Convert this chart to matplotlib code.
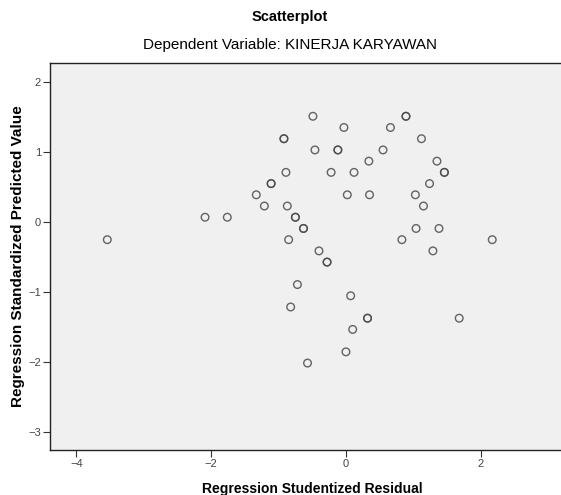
import matplotlib
matplotlib.use("Agg")
import matplotlib.pyplot as plt

plt.rcParams['font.family'] = ['Liberation Sans', 'DejaVu Sans']

# studentized residual (x) and standardized predicted value (y)
# darker rings are two cases on top of each other, so they are listed twice
resid = [-3.54, -2.09, -1.76, -1.33, -1.21, -1.11, -1.11, -0.92, -0.92, -0.89,
         -0.87, -0.85, -0.82, -0.75, -0.75, -0.72, -0.63, -0.63, -0.57, -0.49,
         -0.46, -0.40, -0.28, -0.28, -0.22, -0.12, -0.12, -0.03, 0.00, 0.02,
         0.07, 0.10, 0.12, 0.32, 0.32, 0.34, 0.35, 0.55, 0.66, 0.83,
         0.89, 0.89, 1.03, 1.04, 1.12, 1.15, 1.24, 1.29, 1.35, 1.38,
         1.46, 1.46, 1.68, 2.17]
pred = [-0.25, 0.07, 0.07, 0.39, 0.23, 0.55, 0.55, 1.19, 1.19, 0.71,
        0.23, -0.25, -1.21, 0.07, 0.07, -0.89, -0.09, -0.09, -2.01, 1.51,
        1.03, -0.41, -0.57, -0.57, 0.71, 1.03, 1.03, 1.35, -1.85, 0.39,
        -1.05, -1.53, 0.71, -1.37, -1.37, 0.87, 0.39, 1.03, 1.35, -0.25,
        1.51, 1.51, 0.39, -0.09, 1.19, 0.23, 0.55, -0.41, 0.87, -0.09,
        0.71, 0.71, -1.37, -0.25]

xticks = [-4, -2, 0, 2]
yticks = [-3, -2, -1, 0, 1, 2]

fig = plt.figure(figsize=(5.61, 4.95), dpi=100)
ax = fig.add_axes([50 / 561, 45 / 495, 511 / 561, 387 / 495])
ax.set_facecolor('#f0f0f0')

ax.scatter(resid, pred, s=30, facecolors='none', edgecolors='#4a4a4a',
           linewidths=1.0, alpha=0.85, zorder=3)

ax.set_xlim(-4.39, 3.19)
ax.set_ylim(-3.25, 2.27)
ax.set_xticks(xticks)
ax.set_yticks(yticks)
ax.tick_params(axis='both', direction='out', length=5, width=0.8,
               color='#333333', labelcolor='#444444', labelsize=8, pad=1.5)

ax.spines['right'].set_visible(False)
for s in ['left', 'bottom', 'top']:
    ax.spines[s].set_color('#222222')
    ax.spines[s].set_linewidth(1.0)

fig.text(290 / 561, 1 - 17 / 495, 'Scatterplot', ha='center', va='center',
         fontsize=10.5, fontweight='bold')
fig.text(290 / 561, 1 - 45 / 495, 'Dependent Variable: KINERJA KARYAWAN',
         ha='center', va='center', fontsize=11)
fig.text(312 / 561, 1 - 489 / 495, 'Regression Studentized Residual',
         ha='center', va='center', fontsize=10, fontweight='bold')
fig.text(18.5 / 561, 1 - 256 / 495, 'Regression Standardized Predicted Value',
         ha='center', va='center', rotation=90, fontsize=11, fontweight='bold')

fig.savefig('out.png', dpi=100, facecolor='white')
